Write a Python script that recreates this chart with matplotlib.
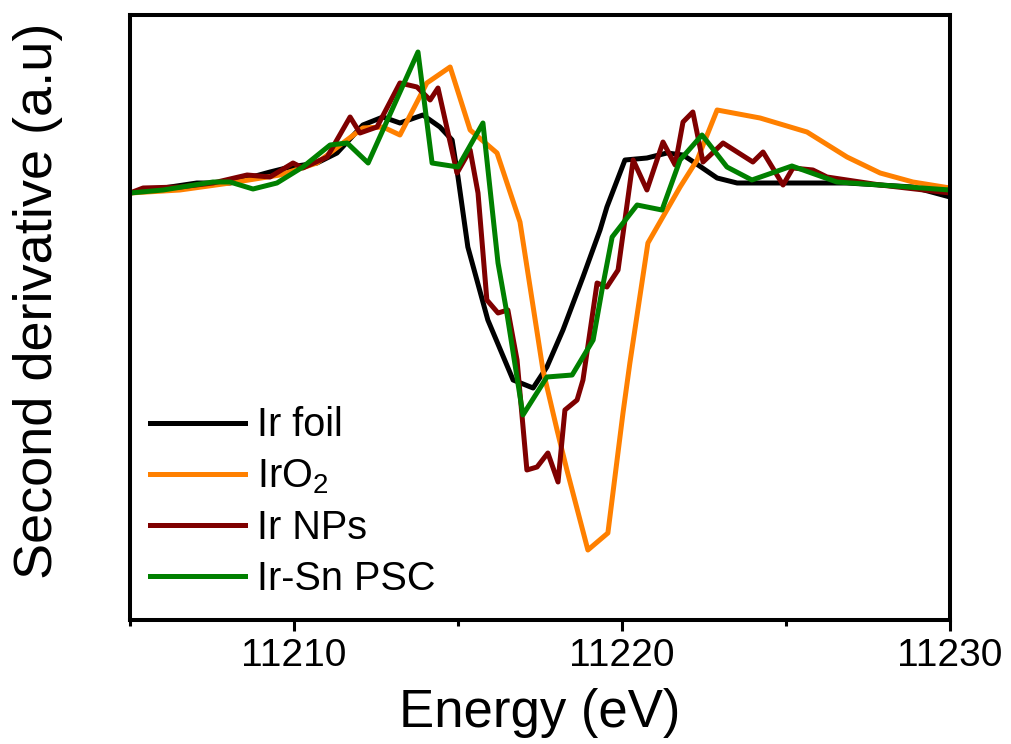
import matplotlib
matplotlib.use("Agg")
import matplotlib.pyplot as plt
from matplotlib.ticker import MultipleLocator

plt.rcParams["font.family"] = ["Liberation Sans", "DejaVu Sans"]
plt.rcParams["mathtext.fontset"] = "custom"
plt.rcParams["mathtext.rm"] = "Liberation Sans"
plt.rcParams["mathtext.default"] = "regular"

# Ir L3-edge second derivative spectra (energy in eV, intensity in a.u.)
foil_e = [11205.00, 11207.04, 11208.05, 11209.27, 11209.88, 11210.70, 11211.31,
          11212.10, 11212.71, 11213.23, 11213.93, 11214.45, 11214.82, 11215.00,
          11215.30, 11215.91, 11216.68, 11217.29, 11217.71, 11218.20, 11218.81,
          11219.33, 11219.54, 11220.09, 11220.76, 11221.37, 11221.86, 11222.32,
          11222.90, 11223.51, 11225.21, 11226.86, 11228.87, 11230.00]
foil_y = [-0.03, 0.07, 0.07, 0.18, 0.23, 0.27, 0.37,
          0.65, 0.73, 0.67, 0.75, 0.63, 0.50, 0.13,
          -0.57, -1.30, -1.90, -1.98, -1.77, -1.40, -0.87,
          -0.40, -0.17, 0.30, 0.32, 0.37, 0.35, 0.25,
          0.12, 0.07, 0.07, 0.07, 0.03, -0.07]

iro2_e = [11205.00, 11206.52, 11208.05, 11209.57, 11210.70, 11211.49, 11212.10,
          11212.71, 11213.23, 11214.05, 11214.76, 11215.37, 11216.19, 11216.89,
          11217.59, 11218.02, 11218.32, 11218.96, 11219.57, 11220.03, 11220.24,
          11220.79, 11221.77, 11222.29, 11222.90, 11224.21, 11225.64, 11226.86,
          11227.87, 11228.87, 11230.00]
iro2_y = [-0.03, 0.00, 0.07, 0.15, 0.27, 0.47, 0.62,
          0.63, 0.55, 1.07, 1.23, 0.60, 0.37, -0.32,
          -1.80, -2.40, -2.80, -3.60, -3.43, -2.23, -1.73,
          -0.53, 0.03, 0.30, 0.80, 0.72, 0.58, 0.33,
          0.17, 0.08, 0.02]

nps_e = [11205.00, 11205.40, 11206.52, 11207.53, 11208.57, 11209.27, 11209.97,
         11210.27, 11211.01, 11211.71, 11212.01, 11212.53, 11213.23, 11213.75,
         11214.15, 11214.39, 11214.97, 11215.37, 11215.61, 11215.88, 11216.22,
         11216.52, 11216.80, 11217.10, 11217.41, 11217.74, 11218.05, 11218.26,
         11218.63, 11218.81, 11219.24, 11219.54, 11219.88, 11220.34, 11220.76,
         11221.25, 11221.62, 11221.86, 11222.16, 11222.47, 11223.08, 11223.99,
         11224.30, 11224.91, 11225.21, 11225.82, 11226.25, 11227.87, 11230.00]
nps_y = [-0.03, 0.02, 0.03, 0.07, 0.15, 0.13, 0.27,
         0.22, 0.33, 0.73, 0.57, 0.63, 1.07, 1.03,
         0.90, 1.02, 0.17, 0.40, -0.03, -1.10, -1.23,
         -1.20, -1.70, -2.80, -2.77, -2.63, -2.92, -2.20,
         -2.10, -1.90, -0.93, -0.97, -0.80, 0.30, 0.00,
         0.48, 0.25, 0.68, 0.78, 0.28, 0.47, 0.28,
         0.38, 0.05, 0.22, 0.20, 0.13, 0.05, -0.03]

psc_e = [11205.00, 11206.01, 11207.53, 11208.05, 11208.75, 11209.48, 11210.27,
         11211.10, 11211.62, 11212.26, 11213.78, 11214.21, 11215.00, 11215.76,
         11216.22, 11216.49, 11216.98, 11217.71, 11218.48, 11219.12, 11219.39,
         11219.70, 11220.46, 11221.22, 11221.77, 11222.44, 11223.20, 11223.96,
         11225.18, 11226.55, 11227.87, 11230.00]
psc_y = [-0.03, 0.00, 0.08, 0.08, 0.01, 0.07, 0.23,
         0.45, 0.47, 0.27, 1.38, 0.27, 0.23, 0.67,
         -0.73, -1.23, -2.25, -1.87, -1.85, -1.50, -1.00,
         -0.47, -0.15, -0.20, 0.30, 0.55, 0.23, 0.10,
         0.24, 0.08, 0.05, 0.00]

series = [
    ("Ir foil", foil_e, foil_y, "black"),
    ("IrO$_2$", iro2_e, iro2_y, "#ff8000"),
    ("Ir NPs", nps_e, nps_y, "#7f0000"),
    ("Ir-Sn PSC", psc_e, psc_y, "#008000"),
]

fig = plt.figure(figsize=(10.12, 7.44), dpi=100)
ax = fig.add_axes([130 / 1012, 1 - 620 / 744, 820 / 1012, 605 / 744])

for label, e, y, color in series:
    ax.plot(e, y, color=color, lw=3.6, label=label)

ax.set_xlim(11205, 11230)
ax.set_ylim(-4.30, 1.75)
ax.xaxis.set_major_locator(MultipleLocator(10))
ax.xaxis.set_minor_locator(MultipleLocator(5))
ax.set_yticks([])
ax.tick_params(axis="x", which="major", direction="out", length=8, width=2.2,
               labelsize=28, pad=5)
ax.tick_params(axis="x", which="minor", direction="out", length=4.5, width=2.2)
for sp in ax.spines.values():
    sp.set_linewidth(2.9)

ax.set_xlabel("Energy (eV)", fontsize=38, labelpad=10)
ax.set_ylabel("Second derivative (a.u)", fontsize=39)
ax.yaxis.set_label_coords(-67 / 820, 0.528)

ax.legend(loc="lower left", bbox_to_anchor=(20 / 820, 0.036), frameon=False,
          fontsize=28.5, handlelength=2.4, handletextpad=0.3, labelspacing=0.33,
          borderpad=0, borderaxespad=0)

fig.savefig("out.png", dpi=100)
